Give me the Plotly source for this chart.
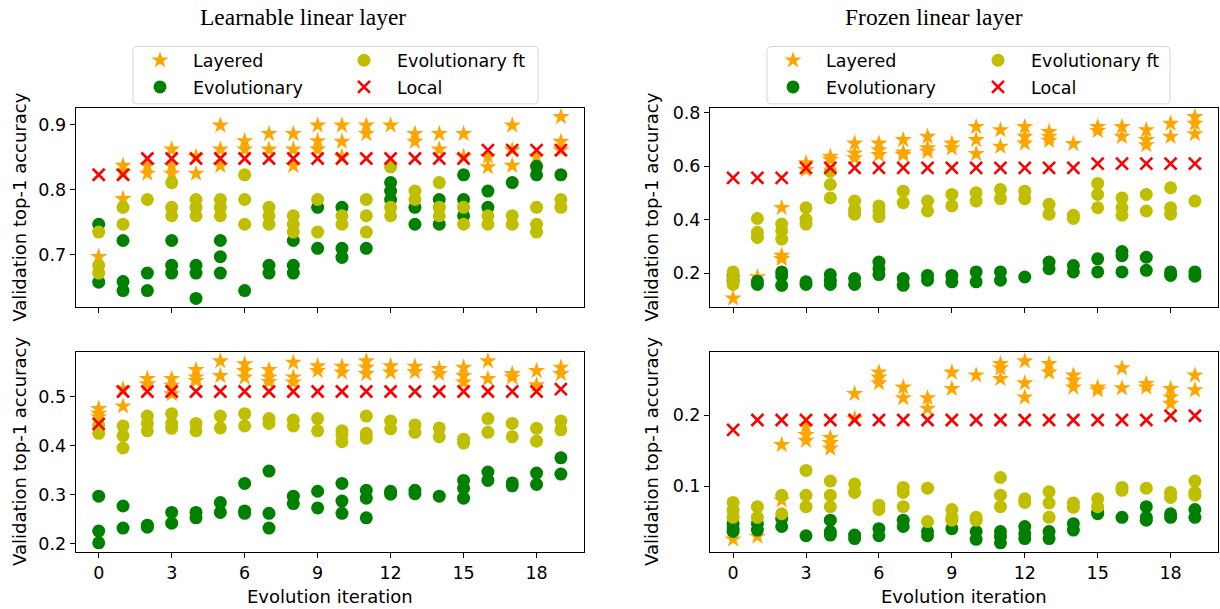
import plotly.graph_objects as go

# ---------------- data (values per evolution iteration 0..19) ----------------
iterations = list(range(20))
x_ticks = [0, 3, 6, 9, 12, 15, 18]

# Learnable linear layer, top panel
tl_layered = [[0.697], [0.837, 0.827, 0.786], [0.837, 0.825], [0.862, 0.837, 0.825], [0.851, 0.825],
              [0.899, 0.862, 0.837], [0.875, 0.862], [0.886, 0.862], [0.886, 0.862, 0.837], [0.899, 0.875, 0.862],
              [0.899, 0.874, 0.851], [0.899, 0.886], [0.899], [0.886, 0.874], [0.886, 0.862],
              [0.886, 0.851], [0.851, 0.835], [0.899, 0.861, 0.837], [0.851], [0.912, 0.874, 0.861]]
tl_evo = [[0.747, 0.658], [0.722, 0.659, 0.645], [0.672, 0.645], [0.722, 0.684, 0.672], [0.684, 0.672, 0.633],
          [0.722, 0.697, 0.672], [0.645], [0.684, 0.672], [0.722, 0.684, 0.672], [0.773, 0.710],
          [0.773, 0.710, 0.696], [0.710], [0.811, 0.798, 0.785], [0.773, 0.747], [0.785, 0.747],
          [0.823, 0.785, 0.760], [0.798, 0.773], [0.811], [0.836, 0.823], [0.823]]
tl_evoft = [[0.735, 0.684, 0.672], [0.773, 0.747], [0.785], [0.811, 0.773, 0.760], [0.785, 0.773, 0.760],
            [0.785, 0.773, 0.760], [0.823, 0.785, 0.747], [0.773, 0.760, 0.747], [0.760, 0.747, 0.735], [0.785, 0.735],
            [0.760, 0.747], [0.785, 0.760, 0.735], [0.835, 0.773, 0.760], [0.798, 0.785], [0.811, 0.773, 0.760],
            [0.773, 0.747], [0.760, 0.747], [0.760, 0.747], [0.773, 0.747, 0.735], [0.785, 0.773]]
tl_local = [0.823, 0.823, 0.848, 0.848, 0.848, 0.848, 0.848, 0.848, 0.848, 0.848,
            0.848, 0.848, 0.848, 0.848, 0.848, 0.848, 0.861, 0.861, 0.861, 0.861]

# Learnable linear layer, bottom panel
bl_layered = [[0.475, 0.465, 0.458], [0.515, 0.480], [0.536, 0.525], [0.536, 0.522, 0.505], [0.554, 0.539, 0.532],
              [0.572, 0.542], [0.566, 0.552, 0.539], [0.554, 0.539, 0.530], [0.569, 0.539, 0.529], [0.562, 0.552],
              [0.561, 0.549], [0.572, 0.559, 0.546], [0.562, 0.549], [0.561, 0.550], [0.556, 0.546],
              [0.559, 0.542, 0.529], [0.572, 0.536], [0.546, 0.539], [0.552, 0.523], [0.559, 0.546]]
bl_evo = [[0.297, 0.226, 0.202], [0.277, 0.232], [0.238, 0.234], [0.264, 0.242], [0.264, 0.253],
          [0.284, 0.264], [0.323, 0.267, 0.262], [0.348, 0.262, 0.232], [0.297, 0.282], [0.307, 0.273],
          [0.323, 0.287, 0.262], [0.309, 0.293, 0.253], [0.307, 0.301], [0.309, 0.302], [0.297],
          [0.329, 0.313, 0.293], [0.346, 0.329], [0.324, 0.318], [0.344, 0.321], [0.375, 0.342]]
bl_evoft = [[0.442, 0.425], [0.440, 0.420, 0.395], [0.460, 0.445, 0.430], [0.465, 0.445, 0.435], [0.445, 0.430],
            [0.460, 0.436], [0.465, 0.440], [0.455, 0.445], [0.452, 0.440], [0.455, 0.430],
            [0.430, 0.422, 0.408], [0.460, 0.425, 0.415], [0.450, 0.434], [0.442, 0.427], [0.436, 0.418],
            [0.413, 0.405], [0.455, 0.427], [0.445, 0.418], [0.435, 0.409], [0.450, 0.432]]
bl_local = [0.444, 0.510, 0.510, 0.510, 0.510, 0.510, 0.510, 0.510, 0.510, 0.510,
            0.510, 0.510, 0.510, 0.510, 0.510, 0.510, 0.510, 0.510, 0.510, 0.515]

# Frozen linear layer, top panel
tr_layered = [[0.105], [0.185], [0.444, 0.265, 0.253], [0.611, 0.586], [0.636, 0.624],
              [0.685, 0.648, 0.630], [0.685, 0.660, 0.642], [0.698, 0.651, 0.642], [0.710, 0.667, 0.654], [0.685, 0.667],
              [0.747, 0.698, 0.646], [0.735, 0.673], [0.747, 0.710, 0.685], [0.728, 0.710, 0.695], [0.683],
              [0.747, 0.732], [0.747, 0.710], [0.735, 0.698, 0.679], [0.759, 0.710], [0.784, 0.759, 0.720]]
tr_evo = [[0.190, 0.170], [0.169, 0.157], [0.204, 0.189, 0.154], [0.167, 0.157], [0.194, 0.173, 0.157],
          [0.179, 0.157], [0.241, 0.216, 0.194], [0.179, 0.154], [0.191, 0.173], [0.191, 0.167],
          [0.204, 0.167], [0.204, 0.173], [0.185], [0.241, 0.216], [0.228, 0.204],
          [0.253, 0.204], [0.280, 0.265, 0.204], [0.259, 0.210], [0.204, 0.191], [0.204, 0.188]]
tr_evoft = [[0.204, 0.179, 0.157], [0.404, 0.352, 0.333], [0.383, 0.358, 0.327], [0.444, 0.401, 0.383], [0.580, 0.531, 0.481],
            [0.469, 0.438, 0.420], [0.451, 0.432, 0.411], [0.506, 0.463], [0.469, 0.432], [0.494, 0.451],
            [0.500, 0.469], [0.512, 0.478], [0.506, 0.478], [0.457, 0.420], [0.416, 0.404],
            [0.535, 0.494, 0.444], [0.481, 0.444, 0.416], [0.494, 0.432], [0.519, 0.444, 0.420], [0.469]]
tr_local = [0.556, 0.556, 0.556, 0.593, 0.593, 0.593, 0.593, 0.593, 0.593, 0.593,
            0.593, 0.593, 0.593, 0.593, 0.593, 0.609, 0.609, 0.609, 0.609, 0.609]

# Frozen linear layer, bottom panel
br_layered = [[0.025], [0.029], [0.158, 0.080], [0.184, 0.172, 0.164], [0.168, 0.161, 0.153],
              [0.230, 0.195], [0.260, 0.253, 0.245], [0.239, 0.224], [0.224, 0.209], [0.260, 0.237],
              [0.256], [0.272, 0.266, 0.251], [0.276, 0.245, 0.225], [0.272, 0.260], [0.256, 0.249, 0.239],
              [0.239, 0.235], [0.266, 0.238], [0.244, 0.239], [0.237, 0.225, 0.216], [0.256, 0.235]]
br_evo = [[0.047, 0.040, 0.036], [0.047, 0.038], [0.054, 0.043], [0.030], [0.052, 0.036, 0.031],
          [0.031, 0.026], [0.040, 0.030], [0.052, 0.043], [0.036, 0.030], [0.040],
          [0.036, 0.025], [0.036, 0.029, 0.020], [0.043, 0.033, 0.026], [0.036, 0.026], [0.047, 0.038],
          [0.063, 0.061], [0.056], [0.071, 0.056, 0.052], [0.061, 0.056], [0.067, 0.056]]
br_evoft = [[0.077, 0.066, 0.056], [0.071, 0.056], [0.087, 0.061], [0.122, 0.087, 0.071], [0.107, 0.087, 0.071],
            [0.103, 0.091], [0.073, 0.067], [0.098, 0.091, 0.071], [0.097, 0.050], [0.067, 0.056, 0.052],
            [0.056, 0.052], [0.112, 0.087, 0.071], [0.082, 0.077], [0.092, 0.076, 0.056], [0.076, 0.070],
            [0.082, 0.071], [0.098, 0.094], [0.097], [0.091, 0.084], [0.107, 0.091, 0.087]]
br_local = [0.179, 0.193, 0.193, 0.193, 0.193, 0.193, 0.193, 0.193, 0.193, 0.193,
            0.193, 0.193, 0.193, 0.193, 0.193, 0.193, 0.193, 0.193, 0.199, 0.199]

series_names = ["Layered", "Evolutionary", "Evolutionary ft", "Local"]
panel_titles = ["Learnable linear layer", "Frozen linear layer"]
y_label = "Validation top-1 accuracy"
x_label = "Evolution iteration"
tl_yticks = [0.7, 0.8, 0.9]
bl_yticks = [0.2, 0.3, 0.4, 0.5]
tr_yticks = [0.2, 0.4, 0.6, 0.8]
br_yticks = [0.1, 0.2]

# ---------------- styling ----------------
W, H = 1220, 609
C_ORANGE, C_GREEN, C_YELLOW, C_RED = "#FFA500", "#008000", "#BFBF00", "#FF0000"
FONT = "DejaVu Sans"


def X(p):
    return p / W


def Y(p):
    return 1 - p / H


def flatten(groups):
    xs, ys = [], []
    for it, vals in zip(iterations, groups):
        for v in vals:
            xs.append(it)
            ys.append(v)
    return xs, ys


def yrange(*groups_lists, flat=()):
    vals = [v for g in groups_lists for vs in g for v in vs] + list(flat)
    lo, hi = min(vals), max(vals)
    pad = (hi - lo) * 0.05
    return [lo - pad, hi + pad]


fig = go.Figure()

panels = [
    ("x", "y", tl_layered, tl_evo, tl_evoft, tl_local, 0),
    ("x2", "y2", tr_layered, tr_evo, tr_evoft, tr_local, 1),
    ("x3", "y3", bl_layered, bl_evo, bl_evoft, bl_local, None),
    ("x4", "y4", br_layered, br_evo, br_evoft, br_local, None),
]

styles = [
    dict(symbol="star", size=13, color=C_ORANGE, line=dict(width=0)),
    dict(symbol="circle", size=13, color=C_GREEN, line=dict(width=0)),
    dict(symbol="circle", size=13, color=C_YELLOW, line=dict(width=0)),
    dict(symbol="x-thin", size=12, color=C_RED, line=dict(width=2.6, color=C_RED)),
]

for xa, ya, lay, evo, evoft, loc, side in panels:
    data = [flatten(lay), flatten(evo), flatten(evoft), (iterations, loc)]
    for k, (xs, ys) in enumerate(data):
        if side is not None:
            idx = side * 4 + k
            kw = dict(showlegend=True, legend="legend" if idx == 0 else "legend%d" % (idx + 1))
        else:
            kw = dict(showlegend=False)
        fig.add_trace(go.Scatter(x=xs, y=ys, mode="markers", name=series_names[k],
                                 marker=styles[k], xaxis=xa, yaxis=ya, **kw))

# ---------------- axes ----------------
xl = [75.6, 584.0]
xr = [710.0, 1218.0]
yt = [104.0, 306.0]
yb = [351.0, 553.3]

axis_common = dict(showline=True, mirror=True, linecolor="black", linewidth=1,
                   ticks="outside", ticklen=5, tickwidth=1, tickcolor="black",
                   showgrid=False, zeroline=False,
                   tickfont=dict(family=FONT, size=17.5, color="black"))
xrng = [-0.95, 19.95]

fig.update_layout(
    xaxis=dict(domain=[X(xl[0]), X(xl[1])], range=xrng, tickvals=x_ticks, showticklabels=False, anchor="y", **axis_common),
    xaxis2=dict(domain=[X(xr[0]), X(xr[1])], range=xrng, tickvals=x_ticks, showticklabels=False, anchor="y2", **axis_common),
    xaxis3=dict(domain=[X(xl[0]), X(xl[1])], range=xrng, tickvals=x_ticks, anchor="y3", **axis_common),
    xaxis4=dict(domain=[X(xr[0]), X(xr[1])], range=xrng, tickvals=x_ticks, anchor="y4", **axis_common),
    yaxis=dict(domain=[Y(yt[1]), Y(yt[0])], range=yrange(tl_layered, tl_evo, tl_evoft, flat=tl_local),
               tickvals=tl_yticks, tickformat=".1f", anchor="x", **axis_common),
    yaxis2=dict(domain=[Y(yt[1]), Y(yt[0])], range=yrange(tr_layered, tr_evo, tr_evoft, flat=tr_local),
                tickvals=tr_yticks, tickformat=".1f", anchor="x2", **axis_common),
    yaxis3=dict(domain=[Y(yb[1]), Y(yb[0])], range=yrange(bl_layered, bl_evo, bl_evoft, flat=bl_local),
                tickvals=bl_yticks, tickformat=".1f", anchor="x3", **axis_common),
    yaxis4=dict(domain=[Y(yb[1]), Y(yb[0])], range=yrange(br_layered, br_evo, br_evoft, flat=br_local),
                tickvals=br_yticks, tickformat=".1f", anchor="x4", **axis_common),
)

# ---------------- legends (one per entry, laid out as 2x2 grid) ----------------
legend_marker_x = [[160, 364], [793, 998]]
legend_rows = [56, 83]
item_w = 56
legend_cfg = {}
for side in range(2):
    for k in range(4):
        col = 0 if k in (0, 1) else 1
        row = 0 if k in (0, 2) else 1
        mx = legend_marker_x[side][col]
        x0 = mx - (item_w + 10) / 2
        idx = side * 4 + k
        name = "legend" if idx == 0 else "legend%d" % (idx + 1)
        legend_cfg[name] = dict(x=X(x0), y=Y(legend_rows[row]), xanchor="left", yanchor="middle",
                                bgcolor="rgba(0,0,0,0)", borderwidth=0, itemwidth=item_w,
                                font=dict(family=FONT, size=17.5, color="black"))
fig.update_layout(**legend_cfg)


def rrect(x0, y0, x1, y1, r):
    return ("M %f,%f L %f,%f Q %f,%f %f,%f L %f,%f Q %f,%f %f,%f L %f,%f Q %f,%f %f,%f L %f,%f Q %f,%f %f,%f Z" % (
        X(x0 + r), Y(y0), X(x1 - r), Y(y0), X(x1), Y(y0), X(x1), Y(y0 + r),
        X(x1), Y(y1 - r), X(x1), Y(y1), X(x1 - r), Y(y1),
        X(x0 + r), Y(y1), X(x0), Y(y1), X(x0), Y(y1 - r),
        X(x0), Y(y0 + r), X(x0), Y(y0), X(x0 + r), Y(y0)))


shapes = []
for bx0, bx1 in [(133, 538), (767, 1170)]:
    shapes.append(dict(type="path", xref="paper", yref="paper", path=rrect(bx0, 42, bx1, 100, 4),
                       line=dict(color="#d6d6d6", width=1), fillcolor="rgba(255,255,255,0.8)", layer="below"))

# ---------------- text annotations ----------------
ann = []
for cx, t in [(303, panel_titles[0]), (934, panel_titles[1])]:
    ann.append(dict(text=t, x=X(cx), y=Y(12), xref="paper", yref="paper", showarrow=False,
                    xanchor="center", yanchor="middle",
                    font=dict(family="Liberation Serif", size=23.5, color="black")))
for cx in [20, 652]:
    for cy in [(yt[0] + yt[1]) / 2, (yb[0] + yb[1]) / 2]:
        ann.append(dict(text=y_label, x=X(cx), y=Y(cy), xref="paper", yref="paper", showarrow=False,
                        textangle=-90, xanchor="center", yanchor="middle",
                        font=dict(family=FONT, size=18, color="black")))
for cx in [(xl[0] + xl[1]) / 2, (xr[0] + xr[1]) / 2]:
    ann.append(dict(text=x_label, x=X(cx), y=Y(598), xref="paper", yref="paper", showarrow=False,
                    xanchor="center", yanchor="middle",
                    font=dict(family=FONT, size=18, color="black")))

fig.update_layout(width=W, height=H, margin=dict(l=0, r=0, t=0, b=0),
                  paper_bgcolor="white", plot_bgcolor="white",
                  shapes=shapes, annotations=ann, font=dict(family=FONT, color="black"))

fig.write_html("out.html")
